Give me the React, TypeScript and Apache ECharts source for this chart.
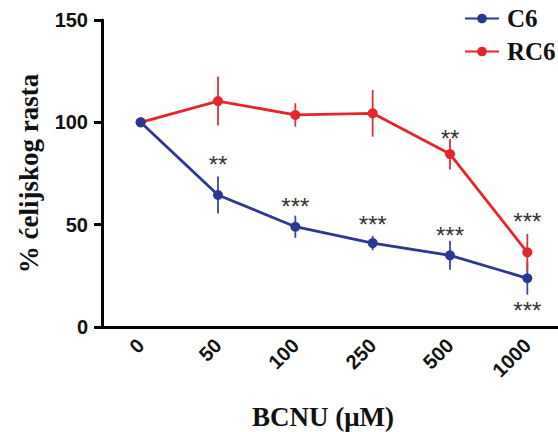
import React, { useEffect, useRef } from "react";
import * as echarts from "echarts";

const categories = ["0", "50", "100", "250", "500", "1000"];
const c6Values = [100, 64.5, 49, 41, 35, 23.8];
const c6Errors = [0, 9, 5.4, 3.5, 7, 8];
const rc6Values = [100, 110.4, 103.6, 104.4, 84.5, 36.5];
const rc6Errors = [0, 12, 5.7, 11.4, 7.5, 9];
const yTicks = { min: 0, max: 150, interval: 50 };
// significance marks: [category index, value at mark centre, text]
const marks: [number, number, string][] = [
  [1, 81.6, "**"],
  [2, 61.3, "***"],
  [3, 52.6, "***"],
  [4, 47, "***"],
  [4, 94.5, "**"],
  [5, 53.9, "***"],
  [5, 10.3, "***"],
];

const BLUE = "#2b3893";
const RED = "#e6252b";

function errorSeries(name: string, values: number[], errors: number[], color: string) {
  return {
    type: "custom",
    name: name + "-err",
    z: 1,
    silent: true,
    data: values.map((v, i) => [i, v - errors[i], v + errors[i]]),
    renderItem: (_params: any, api: any) => {
      const lo = api.coord([api.value(0), api.value(1)]);
      const hi = api.coord([api.value(0), api.value(2)]);
      return {
        type: "line",
        shape: { x1: lo[0], y1: lo[1], x2: hi[0], y2: hi[1] },
        style: { stroke: color, lineWidth: 1.8 },
      };
    },
  };
}

export default function App() {
  const ref = useRef<HTMLDivElement>(null);
  useEffect(() => {
    if (!ref.current) return;
    const chart = echarts.init(ref.current, null, { renderer: "svg" });
    chart.setOption({
      animation: false,
      backgroundColor: "#ffffff",
      grid: { left: 102, right: -8, top: 20, bottom: 105, outerBoundsMode: "none", containLabel: false },
      legend: {
        orient: "vertical",
        left: 459,
        top: 1,
        itemWidth: 34,
        itemHeight: 12,
        itemGap: 8,
        data: ["C6", "RC6"],
        textStyle: { fontFamily: "Liberation Serif", fontWeight: "bold", fontSize: 25, color: "#111", padding: [0, 0, 0, 3] },
      },
      xAxis: {
        type: "category",
        data: categories,
        boundaryGap: true,
        axisLine: { lineStyle: { color: "#000", width: 3 } },
        axisTick: { alignWithLabel: true, length: 8, lineStyle: { color: "#000", width: 3 } },
        axisLabel: { rotate: 45, margin: 15, fontFamily: "Liberation Sans", fontWeight: "bold", fontSize: 20, color: "#111" },
        name: "BCNU (μM)",
        nameLocation: "middle",
        nameGap: 76,
        nameTextStyle: { fontFamily: "Liberation Serif", fontWeight: "bold", fontSize: 27, color: "#111", padding: [0, 22, 0, 0] },
        splitLine: { show: false },
      },
      yAxis: {
        type: "value",
        min: yTicks.min,
        max: yTicks.max,
        interval: yTicks.interval,
        axisLine: { show: true, lineStyle: { color: "#000", width: 3 } },
        axisTick: { show: true, length: 8, lineStyle: { color: "#000", width: 3 } },
        axisLabel: { margin: 14, fontFamily: "Liberation Sans", fontWeight: "bold", fontSize: 20, color: "#111" },
        splitLine: { show: false },
        name: "% ćelijskog rasta",
        nameLocation: "middle",
        nameGap: 60,
        nameTextStyle: { fontFamily: "Liberation Serif", fontWeight: "bold", fontSize: 27, color: "#111" },
      },
      series: [
        errorSeries("C6", c6Values, c6Errors, "#3a46a0"),
        errorSeries("RC6", rc6Values, rc6Errors, "#d9343a"),
        {
          type: "line",
          name: "RC6",
          data: rc6Values,
          z: 3,
          symbol: "circle",
          symbolSize: 10,
          itemStyle: { color: RED },
          lineStyle: { color: RED, width: 2.8 },
        },
        {
          type: "line",
          name: "C6",
          data: c6Values,
          z: 4,
          symbol: "circle",
          symbolSize: 10,
          itemStyle: { color: BLUE },
          lineStyle: { color: BLUE, width: 2.8 },
        },
        {
          type: "custom",
          name: "marks",
          z: 5,
          silent: true,
          data: marks.map((m) => [m[0], m[1], m[2]]),
          renderItem: (params: any, api: any) => {
            const p = api.coord([api.value(0), api.value(1)]);
            const text = marks[params.dataIndex][2];
            return {
              type: "text",
              x: p[0],
              y: p[1] + 5,
              style: {
                text,
                fontFamily: "Liberation Sans",
                fontSize: 24,
                fill: "#333",
                textAlign: "center",
                textVerticalAlign: "middle",
              },
            };
          },
        },
      ],
    });
    return () => chart.dispose();
  }, []);
  return <div ref={ref} style={{ width: 558, height: 432, position: "absolute", left: 0, top: 0 }} />;
}
